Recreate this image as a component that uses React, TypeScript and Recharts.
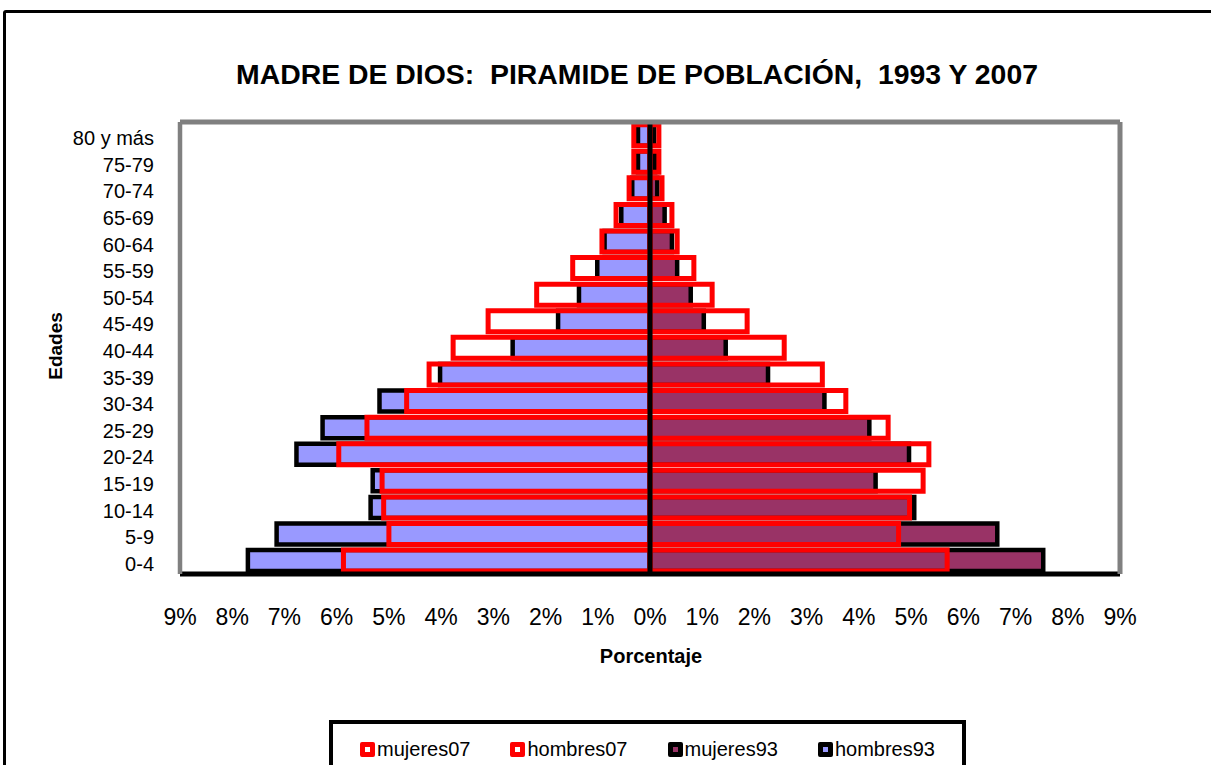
import React from 'react';
import { BarChart, Bar, XAxis, YAxis, ReferenceLine, Legend } from 'recharts';

const categories = ['0-4', '5-9', '10-14', '15-19', '20-24', '25-29', '30-34', '35-39', '40-44', '45-49', '50-54', '55-59', '60-64', '65-69', '70-74', '75-79', '80 y más'];
const hombres93 = [7.70, 7.15, 5.35, 5.31, 6.77, 6.27, 5.18, 4.02, 2.63, 1.76, 1.36, 1.01, 0.87, 0.55, 0.34, 0.23, 0.23];
const hombres07 = [5.87, 5.00, 5.10, 5.13, 5.96, 5.42, 4.66, 4.23, 3.77, 3.10, 2.17, 1.48, 0.92, 0.65, 0.40, 0.31, 0.31];
const mujeres93 = [7.53, 6.65, 5.06, 4.32, 4.96, 4.20, 3.34, 2.26, 1.45, 1.03, 0.78, 0.52, 0.42, 0.28, 0.14, 0.10, 0.08];
const mujeres07 = [5.69, 4.76, 4.97, 5.23, 5.34, 4.56, 3.75, 3.30, 2.57, 1.86, 1.19, 0.84, 0.52, 0.42, 0.23, 0.17, 0.17];
const xTicks = [-9, -8, -7, -6, -5, -4, -3, -2, -1, 0, 1, 2, 3, 4, 5, 6, 7, 8, 9];

const legendItems = [
  { name: 'mujeres07', border: '#FF0000', fill: '#FFFFFF' },
  { name: 'hombres07', border: '#FF0000', fill: '#FFFFFF' },
  { name: 'mujeres93', border: '#000000', fill: '#993366' },
  { name: 'hombres93', border: '#000000', fill: '#9999FF' },
];

const data = categories.map((age, i) => ({
  age,
  hombres93: -hombres93[i],
  mujeres93: mujeres93[i],
  hombres07: -hombres07[i],
  mujeres07: mujeres07[i],
}));

const FONT = "'Liberation Sans', Arial, sans-serif";

const YTick = (props: any) => {
  const { x, y, payload } = props;
  return (
    <text x={x} y={y} dy={10} textAnchor="end" fontSize={20} fill="#000" fontFamily={FONT} style={{ whiteSpace: 'pre' }}>
      {payload.value}
    </text>
  );
};

const XTick = (props: any) => {
  const { x, y, payload } = props;
  return (
    <text x={x} y={y} dy={16.5} textAnchor="middle" fontSize={23} fill="#000" fontFamily={FONT}>
      {Math.abs(payload.value) + '%'}
    </text>
  );
};

const LegendContent = () => (
  <div
    style={{
      boxSizing: 'border-box',
      width: 637,
      height: 80,
      border: '4px solid #000',
      display: 'flex',
      justifyContent: 'center',
      alignItems: 'flex-start',
      paddingTop: 13,
      gap: 40,
      fontFamily: FONT,
      fontSize: 20,
      color: '#000',
      background: '#fff',
    }}
  >
    {legendItems.map((it) => (
      <div key={it.name} style={{ display: 'flex', alignItems: 'center', height: 24 }}>
        <span
          style={{
            boxSizing: 'border-box',
            display: 'inline-block',
            width: 15,
            height: 15,
            border: `5px solid ${it.border}`,
            background: it.fill,
            borderRadius: 2,
            marginRight: 2,
          }}
        />
        <span style={{ lineHeight: '24px' }}>{it.name}</span>
      </div>
    ))}
  </div>
);

export default function App() {
  return (
    <div
      style={{
        position: 'absolute',
        left: 0,
        top: 0,
        width: 1211,
        height: 765,
        overflow: 'hidden',
        background: '#fff',
        fontFamily: FONT,
      }}
    >
      <div
        style={{
          position: 'absolute',
          left: 3,
          top: 10,
          width: 1300,
          height: 900,
          border: '3px solid #000',
          borderRadius: 3,
        }}
      />
      <BarChart
        width={1211}
        height={765}
        data={data}
        layout="vertical"
        margin={{ top: 112, right: 81, bottom: 131, left: 80 }}
        barCategoryGap="10%"
        barGap={0}
        stackOffset="sign"
        style={{ position: 'absolute', left: 0, top: 0 }}
      >
        <XAxis
          xAxisId={0}
          type="number"
          domain={[-9, 9]}
          ticks={xTicks}
          interval={0}
          allowDataOverflow
          height={60}
          tickLine={false}
          tickSize={0}
          tickMargin={34}
          tick={<XTick />}
          axisLine={{ stroke: '#000', strokeWidth: 5 }}
        />
        <XAxis
          xAxisId="top"
          orientation="top"
          type="number"
          domain={[-9, 9]}
          height={10}
          tick={false}
          tickLine={false}
          axisLine={{ stroke: '#808080', strokeWidth: 5 }}
        />
        <YAxis
          yAxisId={0}
          type="category"
          dataKey="age"
          reversed
          width={100}
          interval={0}
          tickLine={false}
          tickSize={0}
          tickMargin={26}
          tick={<YTick />}
          axisLine={{ stroke: '#808080', strokeWidth: 4.5 }}
        />
        <YAxis yAxisId="b" type="category" dataKey="age" reversed hide />
        <YAxis
          yAxisId="right"
          orientation="right"
          type="category"
          dataKey="age"
          reversed
          width={10}
          tick={false}
          tickLine={false}
          axisLine={{ stroke: '#808080', strokeWidth: 5 }}
        />
        <Bar dataKey="hombres93" name="hombres93" stackId="93" yAxisId={0} xAxisId={0} fill="#9999FF" stroke="#000" strokeWidth={4.5} isAnimationActive={false} />
        <Bar dataKey="mujeres93" name="mujeres93" stackId="93" yAxisId={0} xAxisId={0} fill="#993366" stroke="#000" strokeWidth={4.5} isAnimationActive={false} />
        <Bar dataKey="hombres07" name="hombres07" stackId="07" yAxisId="b" xAxisId={0} fill="none" stroke="#FF0000" strokeWidth={5} isAnimationActive={false} />
        <Bar dataKey="mujeres07" name="mujeres07" stackId="07" yAxisId="b" xAxisId={0} fill="none" stroke="#FF0000" strokeWidth={5} isAnimationActive={false} />
        <ReferenceLine x={0} xAxisId={0} yAxisId={0} stroke="#000" strokeWidth={5} />
        <Legend
          content={<LegendContent />}
          layout="vertical"
          align="center"
          verticalAlign="middle"
          wrapperStyle={{ position: 'absolute', left: 329, top: 720, width: 637, height: 80 }}
        />
      </BarChart>
      <svg width={1211} height={765} style={{ position: 'absolute', left: 0, top: 0, pointerEvents: 'none' }}>
        <text x={637} y={84} textAnchor="middle" fontSize={28.4} fontWeight="bold" fill="#000" fontFamily={FONT} style={{ whiteSpace: 'pre' }}>
          {'MADRE DE DIOS:  PIRAMIDE DE POBLACIÓN,  1993 Y 2007'}
        </text>
        <text x={651} y={663} textAnchor="middle" fontSize={20} fontWeight="bold" fill="#000" fontFamily={FONT}>
          Porcentaje
        </text>
        <text
          x={0}
          y={0}
          transform="translate(62 346) rotate(-90)"
          textAnchor="middle"
          fontSize={19}
          fontWeight="bold"
          fill="#000"
          fontFamily={FONT}
        >
          Edades
        </text>
      </svg>
    </div>
  );
}
